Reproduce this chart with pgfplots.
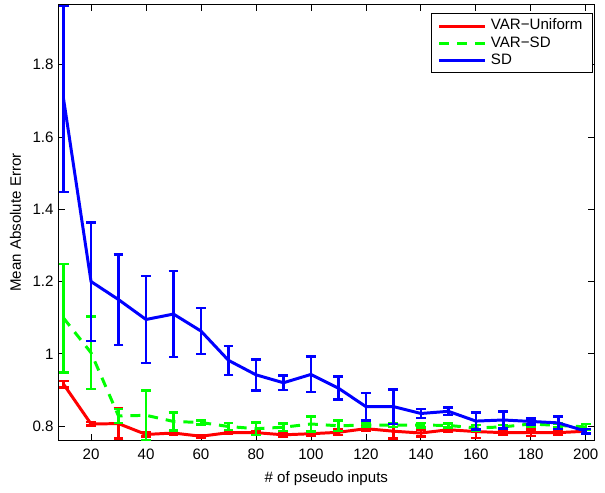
\documentclass[border=0pt]{standalone}
\usepackage{pgfplots}
\pgfplotsset{compat=1.18}
\usepackage{fontspec}
\setmainfont{Liberation Sans}
\begin{document}
\begin{tikzpicture}
\begin{axis}[
  scale only axis, width=269.5pt, height=219pt,
  xmin=8.2, xmax=203, ymin=0.7615, ymax=1.965,
  xtick={20,40,...,200}, ytick={0.8,1,1.2,1.4,1.6,1.8},
  yticklabels={0.8,1,1.2,1.4,1.6,1.8},
  tick align=inside, tick pos=both, major tick length=3pt,
  tick style={black, line width=0.4pt},
  axis line style={line width=0.5pt},
  /pgf/number format/assume math mode=true,
  font=\fontsize{7.6}{9}\selectfont,
  ticklabel style={font=\fontsize{7.6}{9}\selectfont},
  xticklabel style={yshift=-1pt},
  yticklabel style={xshift=1pt},
  xlabel={\# of pseudo inputs}, ylabel={Mean Absolute Error},
  xlabel style={yshift=1pt}, ylabel style={yshift=-1pt},
  legend style={at={(0.998,0.982)}, anchor=north east, draw=black, line width=0.5pt,
    font=\fontsize{7.6}{9}\selectfont, inner xsep=3pt, inner ysep=2pt, row sep=0pt,
    nodes={inner ysep=0.9pt, inner xsep=2pt}, cells={anchor=west}},
  legend cell align=left,
  legend image code/.code={\draw[#1] (0cm,0cm) -- (0.82cm,0cm);},
  error bars/y dir=both, error bars/y explicit,
  error bars/error mark options={rotate=90, mark size=2.5pt, line width=1.3pt},
  error bars/error bar style={line width=1.3pt, solid},
]
\addplot[red, line width=1.5pt, mark=none] table[x=x, y=y, y error=e] {
x y e
10 0.916 0.009
20 0.806 0.005
30 0.807 0.041
40 0.777 0.005
50 0.781 0.005
60 0.772 0.004
70 0.782 0.004
80 0.782 0.004
90 0.776 0.005
100 0.779 0.006
110 0.783 0.008
120 0.793 0.006
130 0.786 0.020
140 0.781 0.009
150 0.790 0.006
160 0.785 0.018
170 0.782 0.006
180 0.782 0.009
190 0.782 0.006
200 0.786 0.005
};
\addlegendentry{VAR−Uniform}
\addplot[color={rgb,255:red,0;green,255;blue,0}, line width=1.5pt, dashed, dash pattern=on 5pt off 4pt, mark=none] table[x=x, y=y, y error=e] {
x y e
10 1.099 0.150
20 1.003 0.100
30 0.828 0.019
40 0.830 0.068
50 0.813 0.025
60 0.810 0.005
70 0.799 0.010
80 0.793 0.017
90 0.797 0.010
100 0.806 0.021
110 0.801 0.015
120 0.803 0.005
130 0.803 0.005
140 0.803 0.006
150 0.802 0.006
160 0.795 0.008
170 0.798 0.005
180 0.806 0.008
190 0.802 0.005
200 0.798 0.008
};
\addlegendentry{VAR−SD}
\addplot[blue, line width=1.5pt, mark=none] table[x=x, y=y, y error=e] {
x y e
10 1.705 0.257
20 1.200 0.164
30 1.150 0.125
40 1.095 0.120
50 1.110 0.119
60 1.063 0.064
70 0.982 0.040
80 0.942 0.043
90 0.920 0.020
100 0.943 0.049
110 0.905 0.032
120 0.854 0.038
130 0.854 0.048
140 0.835 0.012
150 0.841 0.010
160 0.814 0.024
170 0.817 0.024
180 0.813 0.008
190 0.809 0.017
200 0.786 0.006
};
\addlegendentry{SD}
\end{axis}
\useasboundingbox (current axis.south west) ++(-29.5pt,-23pt) rectangle ([shift={(3.5pt,2.5pt)}]current axis.north east);
\end{tikzpicture}
\end{document}
